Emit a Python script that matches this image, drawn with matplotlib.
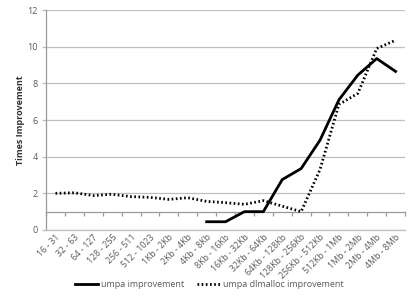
import numpy as np
import matplotlib
matplotlib.use('Agg')
import matplotlib.pyplot as plt

# size buckets on the x axis
categories = ['16 - 31', '32 - 63', '64 - 127', '128 - 255', '256 - 511',
              '512 - 1023', '1Kb - 2Kb', '2Kb - 4Kb', '4Kb - 8Kb',
              '8Kb - 16Kb', '16Kb - 32Kb', '32Kb - 64Kb', '64Kb - 128Kb',
              '128Kb - 256Kb', '256Kb - 512Kb', '512Kb - 1Mb', '1Mb - 2Mb',
              '2Mb - 4Mb', '4Mb - 8Mb']

umpa = [np.nan, np.nan, np.nan, np.nan, np.nan, np.nan, np.nan, np.nan,
        0.45, 0.45, 1.0, 1.0, 2.75, 3.35, 4.9, 7.1, 8.45, 9.35, 8.65]

umpa_dlmalloc = [2.0, 2.03, 1.88, 1.95, 1.82, 1.78, 1.67, 1.76, 1.56, 1.49,
                 1.40, 1.6, 1.3, 1.0, 3.3, 6.85, 7.45, 9.9, 10.35]

y_ticks = [0, 2, 4, 6, 8, 10, 12]

grid_col = '#bfbfbf'
text_col = '#595959'

plt.rcParams['font.family'] = ['Open Sans', 'DejaVu Sans']

fig = plt.figure(figsize=(4.15, 2.97), dpi=100)
ax = fig.add_axes([0.111, 0.2256, 0.865, 0.7407])

x = np.arange(len(categories))
ax.plot(x, umpa, color='black', lw=2.0, label='umpa improvement')
ax.plot(x, umpa_dlmalloc, color='black', lw=2.0, linestyle=(0, (0.6, 0.9)),
        dash_capstyle='butt', label='umpa dlmalloc improvement')

ax.set_xlim(-0.5, len(categories) - 0.5)
ax.set_ylim(0, 12)
ax.set_yticks(y_ticks)
ax.yaxis.grid(True, color=grid_col, lw=0.9)
ax.set_axisbelow(True)

ax.set_xticks(x)
ax.set_xticklabels(categories, rotation=45, ha='right', rotation_mode='anchor')
ax.tick_params(axis='x', length=0, pad=2, labelsize=6.3, labelcolor=text_col)
ax.tick_params(axis='y', length=3, color=grid_col, width=0.9, pad=3,
               labelsize=6.5, labelcolor=text_col)

for s in ['top', 'right']:
    ax.spines[s].set_visible(False)
ax.spines['left'].set_color('#999999')
ax.spines['left'].set_linewidth(0.9)
ax.spines['bottom'].set_color(grid_col)
ax.spines['bottom'].set_linewidth(0.9)

# Excel-style horizontal axis crossing at 1, ticks between categories
sec = ax.secondary_xaxis(1 / 12)
sec.set_xticks(np.arange(-0.5, len(categories), 1))
sec.tick_params(axis='x', direction='out', length=3, color='#999999',
                width=0.9, labelbottom=False, labeltop=False)
sec.spines['bottom'].set_color('#999999')
sec.spines['bottom'].set_linewidth(0.9)

ax.set_ylabel('Times Improvement', fontsize=6.5, fontweight='bold',
              color='#333333', labelpad=1.5)

fig.legend(loc='lower center', bbox_to_anchor=(0.505, 0.0), ncol=2,
           frameon=False, fontsize=6.5, handlelength=2.5, columnspacing=1.4,
           handletextpad=0.4, labelcolor=text_col)

fig.savefig('out.png', dpi=100)
